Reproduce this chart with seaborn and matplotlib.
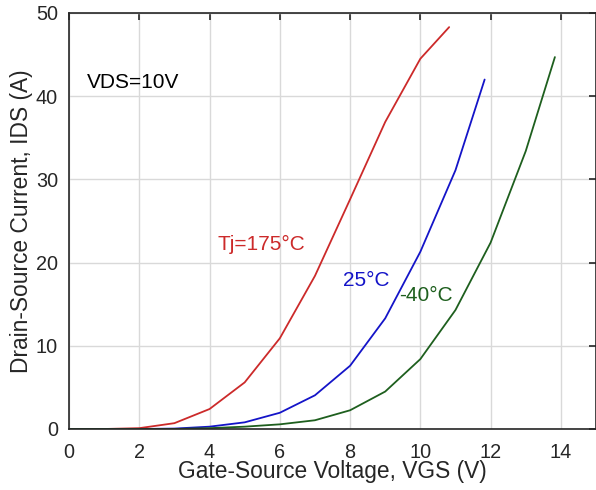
import numpy as np
import pandas as pd
import seaborn as sns
import matplotlib
matplotlib.use("Agg")
import matplotlib.pyplot as plt

# Transfer characteristics
vgs_175 = [0, 1, 2, 3, 4, 5, 6, 7, 8, 9, 10, 10.82]
ids_175 = [0, 0, 0.1, 0.7, 2.4, 5.6, 10.9, 18.4, 27.6, 36.9, 44.5, 48.3]

vgs_25 = [0, 1, 2, 3, 4, 5, 6, 7, 8, 9, 10, 11, 11.83]
ids_25 = [0, 0, 0, 0.05, 0.28, 0.8, 1.95, 4.05, 7.6, 13.3, 21.3, 31.1, 42.0]

vgs_m40 = [0, 1, 2, 3, 4, 5, 6, 7, 8, 9, 10, 11, 12, 13, 13.83]
ids_m40 = [0, 0, 0, 0, 0.1, 0.28, 0.56, 1.05, 2.25, 4.5, 8.4, 14.3, 22.4, 33.4, 44.7]

x_ticks = [0, 2, 4, 6, 8, 10, 12, 14]
y_ticks = [0, 10, 20, 30, 40, 50]

sns.set_theme(style="white")
plt.rcParams["font.family"] = ["Liberation Sans", "DejaVu Sans"]

fig = plt.figure(figsize=(5.96, 4.90), dpi=100)
ax = fig.add_axes([0.1158, 0.1245, 0.8842, 0.849])

curves = [
    (vgs_175, ids_175, "#cc2a2a"),
    (vgs_25, ids_25, "#1414c8"),
    (vgs_m40, ids_m40, "#1e5f1e"),
]
for xs, ys, col in curves:
    df = pd.DataFrame({"vgs": xs, "ids": ys})
    sns.lineplot(data=df, x="vgs", y="ids", color=col, linewidth=1.3, ax=ax)

ax.set_xlim(0, 15)
ax.set_ylim(0, 50)
ax.set_xticks(x_ticks)
ax.set_yticks(y_ticks)
ax.grid(True, color="#d9d9d9", linewidth=1.0)
ax.set_axisbelow(True)
for s in ax.spines.values():
    s.set_color("#262626")
    s.set_linewidth(1.2)
    s.set_visible(True)
ax.tick_params(direction="in", length=5, width=1.2, colors="#262626",
               top=True, right=True, labelsize=14.3, pad=10)
ax.tick_params(axis="y", pad=8)
for lab in ax.get_xticklabels() + ax.get_yticklabels():
    lab.set_color("#262626")

ax.set_xlabel("Gate-Source Voltage, VGS (V)", fontsize=16.4, color="#262626", labelpad=-1)
ax.set_ylabel("Drain-Source Current, IDS (A)", fontsize=16.4, color="#262626", labelpad=2)

ax.text(0.5, 41.7, "VDS=10V", fontsize=15, color="black", va="center")
ax.text(4.23, 22.2, "Tj=175°C", fontsize=15, color="#cc2a2a", va="center")
ax.text(7.8, 17.9, "25°C", fontsize=15, color="#1414c8", va="center")
ax.text(9.4, 16.0, "-40°C", fontsize=15, color="#1e5f1e", va="center")

fig.savefig("out.png", dpi=100)
